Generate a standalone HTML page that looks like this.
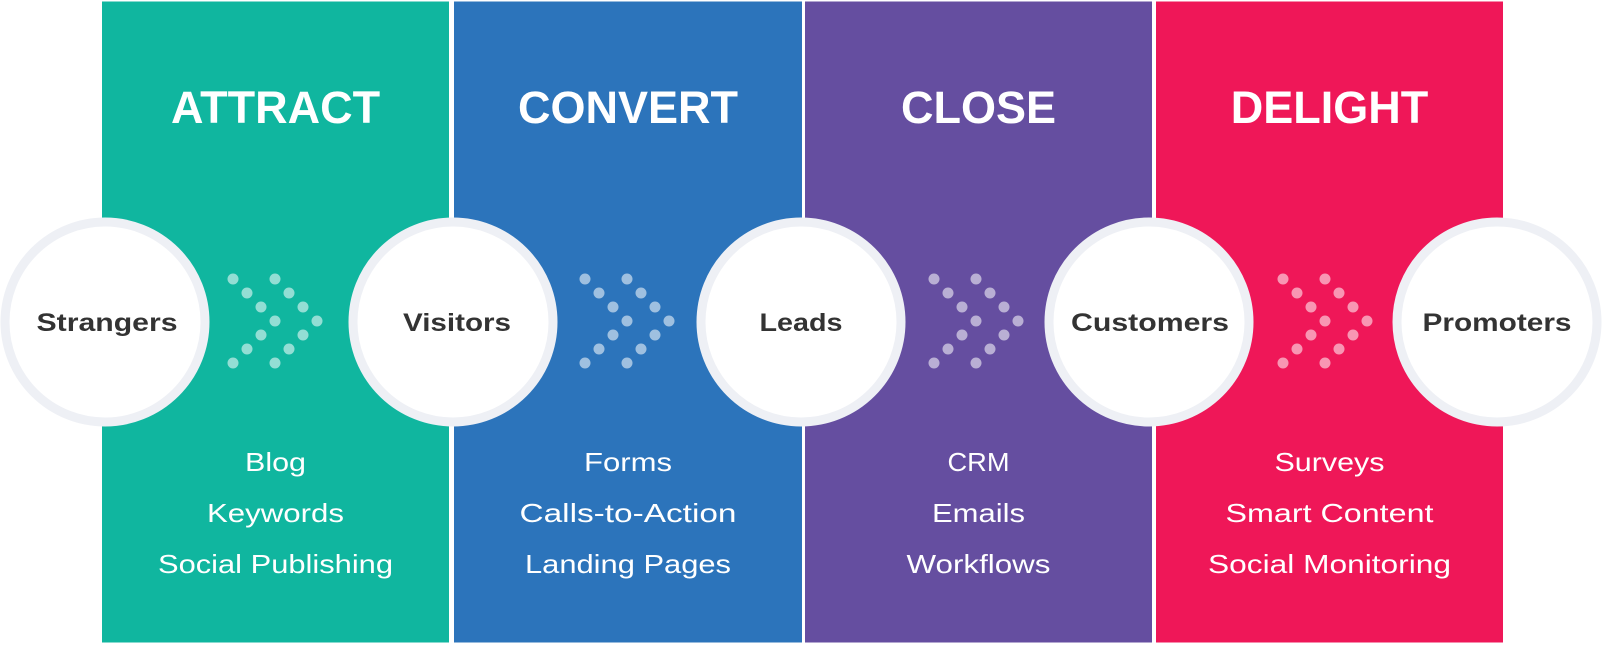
<!DOCTYPE html>
<html><head><meta charset="utf-8"><style>
html,body{margin:0;padding:0;background:#fff;width:1602px;height:646px;overflow:hidden}
svg{display:block}
.t{font-family:"Liberation Sans",sans-serif;font-weight:bold;font-size:45px;fill:#fff;text-anchor:middle}
.l{font-family:"Liberation Sans",sans-serif;font-size:26px;fill:#fff;text-anchor:middle}
.c{font-family:"Liberation Sans",sans-serif;font-weight:bold;font-size:25px;fill:#333;text-anchor:middle}
</style></head><body>
<svg width="1602" height="646" viewBox="0 0 1602 646" xmlns="http://www.w3.org/2000/svg">
<defs>
<g id="dots" fill="#fff" fill-opacity="0.55">
<circle cx="0" cy="0" r="5.5"/><circle cx="14" cy="14" r="5.5"/><circle cx="28" cy="28" r="5.5"/><circle cx="42" cy="42" r="5.5"/><circle cx="28" cy="56" r="5.5"/><circle cx="14" cy="70" r="5.5"/><circle cx="0" cy="84" r="5.5"/>
<circle cx="42" cy="0" r="5.5"/><circle cx="56" cy="14" r="5.5"/><circle cx="70" cy="28" r="5.5"/><circle cx="84" cy="42" r="5.5"/><circle cx="70" cy="56" r="5.5"/><circle cx="56" cy="70" r="5.5"/><circle cx="42" cy="84" r="5.5"/>
</g>
</defs>
<rect x="102" y="1.5" width="347" height="641" fill="#10b69f"/>
<rect x="454" y="1.5" width="348" height="641" fill="#2c74bb"/>
<rect x="805" y="1.5" width="347" height="641" fill="#654ea0"/>
<rect x="1156" y="1.5" width="347" height="641" fill="#ef1758"/>
<text class="t" x="275.5" y="123">ATTRACT</text>
<text class="t" x="628" y="123">CONVERT</text>
<text class="t" x="978.5" y="123">CLOSE</text>
<text class="t" x="1329.5" y="123">DELIGHT</text>
<use href="#dots" x="233" y="279"/>
<use href="#dots" x="585" y="279"/>
<use href="#dots" x="934" y="279"/>
<use href="#dots" x="1283" y="279"/>
<g fill="#fff" stroke="#eef0f5" stroke-width="9">
<circle cx="105" cy="322" r="100"/>
<circle cx="453" cy="322" r="100"/>
<circle cx="801" cy="322" r="100"/>
<circle cx="1149" cy="322" r="100"/>
<circle cx="1497" cy="322" r="100"/>
</g>
<text class="c" x="107" y="331" textLength="141" lengthAdjust="spacingAndGlyphs">Strangers</text>
<text class="c" x="457" y="331" textLength="108" lengthAdjust="spacingAndGlyphs">Visitors</text>
<text class="c" x="801" y="331" textLength="83" lengthAdjust="spacingAndGlyphs">Leads</text>
<text class="c" x="1150" y="331" textLength="158" lengthAdjust="spacingAndGlyphs">Customers</text>
<text class="c" x="1497" y="331" textLength="149" lengthAdjust="spacingAndGlyphs">Promoters</text>
<text class="l" x="275.5" y="471" textLength="61" lengthAdjust="spacingAndGlyphs">Blog</text>
<text class="l" x="275.5" y="522" textLength="137" lengthAdjust="spacingAndGlyphs">Keywords</text>
<text class="l" x="275.5" y="573" textLength="235" lengthAdjust="spacingAndGlyphs">Social Publishing</text>
<text class="l" x="628" y="471" textLength="88" lengthAdjust="spacingAndGlyphs">Forms</text>
<text class="l" x="628" y="522" textLength="217" lengthAdjust="spacingAndGlyphs">Calls-to-Action</text>
<text class="l" x="628" y="573" textLength="206" lengthAdjust="spacingAndGlyphs">Landing Pages</text>
<text class="l" x="978.5" y="471" textLength="62" lengthAdjust="spacingAndGlyphs">CRM</text>
<text class="l" x="978.5" y="522" textLength="93" lengthAdjust="spacingAndGlyphs">Emails</text>
<text class="l" x="978.5" y="573" textLength="144" lengthAdjust="spacingAndGlyphs">Workflows</text>
<text class="l" x="1329.5" y="471" textLength="110" lengthAdjust="spacingAndGlyphs">Surveys</text>
<text class="l" x="1329.5" y="522" textLength="208" lengthAdjust="spacingAndGlyphs">Smart Content</text>
<text class="l" x="1329.5" y="573" textLength="243" lengthAdjust="spacingAndGlyphs">Social Monitoring</text>
</svg>
</body></html>
